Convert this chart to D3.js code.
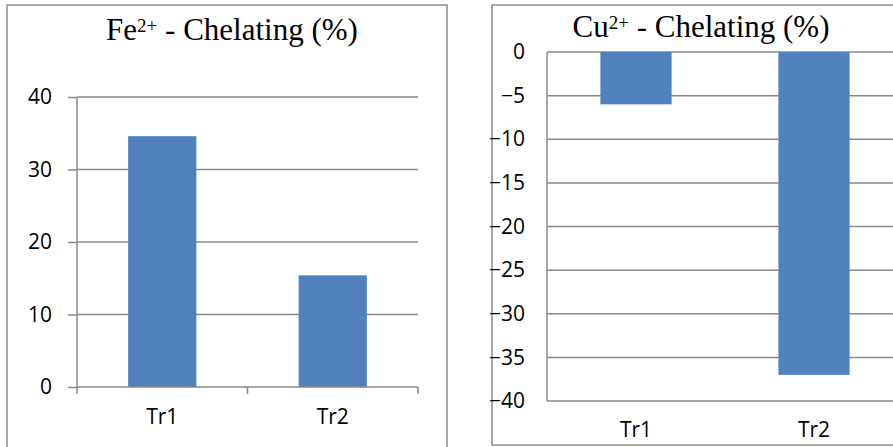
<!DOCTYPE html>
<html><head><meta charset="utf-8">
<script src="https://cdn.jsdelivr.net/npm/d3@7"></script>
<style>html,body{margin:0;padding:0;background:#fff;}svg{display:block;}</style>
</head><body>
<svg id="c" width="893" height="447"></svg>
<script>
const categories = ["Tr1", "Tr2"];
const feValues = [34.6, 15.4];
const cuValues = [-6.0, -37.0];
const feTicks = [0, 10, 20, 30, 40];
const cuTicks = [0, -5, -10, -15, -20, -25, -30, -35, -40];

const svg = d3.select("#c");
const gridColor = "#888888";
const barColor = "#4F81BD";
const tickFont = "'Open Sans', 'Liberation Sans', sans-serif";
const tickSize = 21;

// Panel borders
svg.append("rect").attr("x", 7).attr("y", 5).attr("width", 440).attr("height", 460)
  .attr("fill", "none").attr("stroke", "#8c8c8c").attr("stroke-width", 1.5);
svg.append("rect").attr("x", 492).attr("y", 5).attr("width", 440).attr("height", 440)
  .attr("fill", "none").attr("stroke", "#8c8c8c").attr("stroke-width", 1.5);

function title(x, y, base, sup, rest) {
  const t = svg.append("text").attr("x", x).attr("y", y).attr("text-anchor", "middle")
    .attr("font-family", "'Liberation Serif', 'Times New Roman', serif").attr("font-size", 31).attr("fill", "#000");
  t.append("tspan").text(base);
  t.append("tspan").attr("font-size", 19).attr("dy", -8).text(sup);
  t.append("tspan").attr("dy", 8).text(rest);
}

// ---------- Left chart ----------
{
  const x0 = 77, x1 = 418, yTop = 97, yBot = 387;
  const x = d3.scaleBand().domain(categories).range([x0, x1]).paddingInner(0.6).paddingOuter(0.3);
  const y = d3.scaleLinear().domain([0, 40]).range([yBot, yTop]);
  const g = svg.append("g");
  g.append("g").attr("transform", `translate(${x0},0)`)
    .call(d3.axisLeft(y).tickValues(feTicks).tickSize(9).tickPadding(16).tickFormat(d3.format("d")))
    .call(a => a.select(".domain").remove())
    .call(a => a.selectAll("line").attr("stroke", gridColor).attr("stroke-width", 1.5))
    .call(a => a.selectAll("text").attr("font-family", tickFont).attr("font-size", tickSize).attr("fill", "#000"));
  g.append("g").selectAll("line").data(feTicks.filter(d => d !== 0)).join("line")
    .attr("x1", x0).attr("x2", x1).attr("y1", d => y(d)).attr("y2", d => y(d))
    .attr("stroke", gridColor).attr("stroke-width", 1.5);
  g.append("line").attr("x1", x0).attr("x2", x0).attr("y1", yTop).attr("y2", yBot)
    .attr("stroke", gridColor).attr("stroke-width", 1.5);
  g.append("g").selectAll("rect").data(feValues).join("rect")
    .attr("x", (d, i) => x(categories[i])).attr("width", x.bandwidth())
    .attr("y", d => y(d)).attr("height", d => y(0) - y(d)).attr("fill", barColor);
  const xb = d3.scaleBand().domain(categories).range([x0, x1]);
  g.append("line").attr("x1", x0).attr("x2", x1).attr("y1", yBot).attr("y2", yBot)
    .attr("stroke", gridColor).attr("stroke-width", 1.5);
  const bounds = [x0, ...categories.map(c => xb(c) + xb.bandwidth())];
  g.append("g").selectAll("line").data(bounds).join("line")
    .attr("x1", d => d).attr("x2", d => d).attr("y1", yBot).attr("y2", yBot + 7)
    .attr("stroke", gridColor).attr("stroke-width", 1.5);
  g.append("g").selectAll("text").data(categories).join("text")
    .attr("x", d => xb(d) + xb.bandwidth() / 2).attr("y", 424).attr("text-anchor", "middle")
    .attr("font-family", tickFont).attr("font-size", tickSize).attr("fill", "#000").text(d => d);
  title(232, 40, "Fe", "2+", " - Chelating (%)");
}

// ---------- Right chart ----------
{
  const x0 = 547, x1 = 903, yTop = 52, yBot = 401;
  const x = d3.scaleBand().domain(categories).range([x0, x1]).paddingInner(0.6).paddingOuter(0.3);
  const y = d3.scaleLinear().domain([-40, 0]).range([yBot, yTop]);
  const g = svg.append("g");
  g.append("g").selectAll("line").data(cuTicks).join("line")
    .attr("x1", x0).attr("x2", x1).attr("y1", d => y(d)).attr("y2", d => y(d))
    .attr("stroke", gridColor).attr("stroke-width", 1.5);
  g.append("g").attr("transform", `translate(${x0},0)`)
    .call(d3.axisLeft(y).tickValues(cuTicks).tickSize(0).tickPadding(22).tickFormat(d3.format("d")))
    .call(a => a.select(".domain").remove())
    .call(a => a.selectAll("text").attr("font-family", tickFont).attr("font-size", tickSize).attr("fill", "#000"));
  g.append("line").attr("x1", x0).attr("x2", x0).attr("y1", yTop).attr("y2", yBot)
    .attr("stroke", gridColor).attr("stroke-width", 1.5);
  g.append("g").selectAll("rect").data(cuValues).join("rect")
    .attr("x", (d, i) => x(categories[i])).attr("width", x.bandwidth())
    .attr("y", y(0)).attr("height", d => y(d) - y(0)).attr("fill", barColor);
  const xb = d3.scaleBand().domain(categories).range([x0, x1]);
  g.append("g").selectAll("text").data(categories).join("text")
    .attr("x", d => xb(d) + xb.bandwidth() / 2).attr("y", 437).attr("text-anchor", "middle")
    .attr("font-family", tickFont).attr("font-size", tickSize).attr("fill", "#000").text(d => d);
  title(701, 37, "Cu", "2+", " - Chelating (%)");
}
</script>
</body></html>
